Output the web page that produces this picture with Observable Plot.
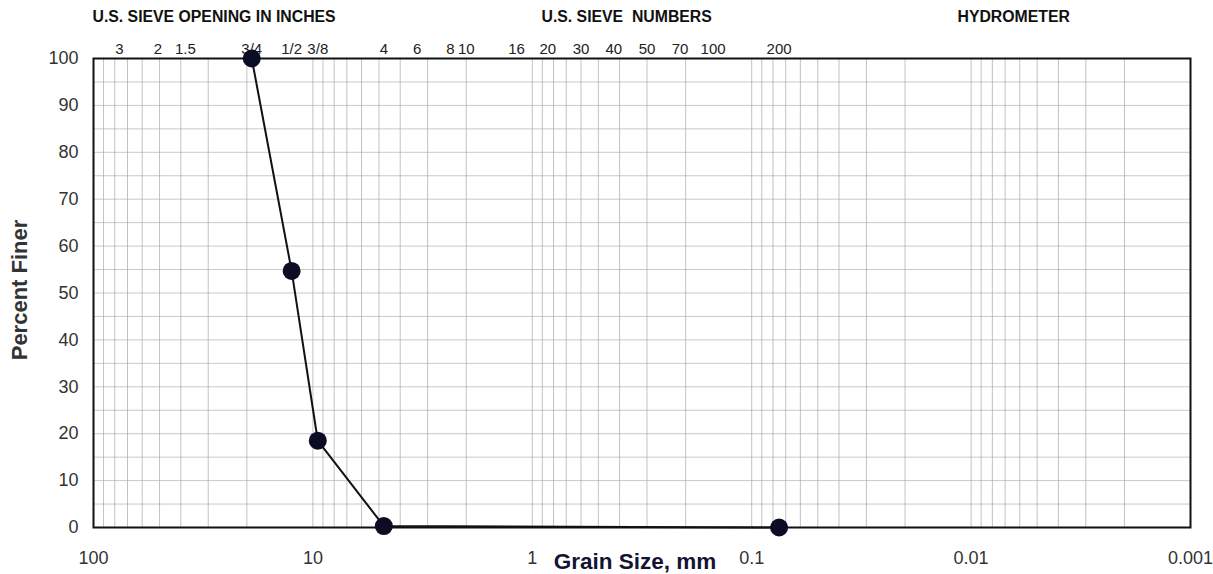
<!DOCTYPE html>
<html>
<head>
<meta charset="utf-8">
<script src="https://cdn.jsdelivr.net/npm/d3@7"></script>
<script src="https://cdn.jsdelivr.net/npm/@observablehq/plot@0.6"></script>
<style>
  html, body { margin: 0; padding: 0; background: #fff; }
</style>
</head>
<body>
<div id="chart"></div>
<script>
// Sieve tick labels (top axis) and their openings in mm
const sieveLabels = ["3", "2", "1.5", "3/4", "1/2", "3/8", "4", "6", "8", "10", "16", "20", "30", "40", "50", "70", "100", "200"];
const sieveSizesMm = [76.2, 50.8, 38.1, 19.0, 12.5, 9.5, 4.75, 3.35, 2.36, 2.0, 1.18, 0.85, 0.6, 0.425, 0.3, 0.212, 0.15, 0.075];

// Gradation test results
const grainSizeMm = [19.0, 12.5, 9.5, 4.75, 0.075];
const percentFiner = [100, 54.7, 18.5, 0.3, 0];

// Bottom axis ticks
const xTickValues = [100, 10, 1, 0.1, 0.01, 0.001];
const xTickLabels = ["100", "10", "1", "0.1", "0.01", "0.001"];
const yTickValues = [0, 10, 20, 30, 40, 50, 60, 70, 80, 90, 100];

// Header labels
const headerLabels = ["U.S. SIEVE OPENING IN INCHES", "U.S. SIEVE  NUMBERS", "HYDROMETER"];
const headerOffsets = [-1, 448, 864];

const points = grainSizeMm.map((d, i) => ({size: d, pct: percentFiner[i]}));
const sieves = sieveSizesMm.map((d, i) => ({size: d, label: sieveLabels[i]}));

// log grid lines (1..9 x each decade)
const gridXValues = [];
for (let e = -3; e < 2; e++) for (let m = 1; m < 10; m++) gridXValues.push(+(m * Math.pow(10, e)).toPrecision(6));
gridXValues.push(100);
const gridYValues = d3.range(0, 101, 5);

const font = "'Liberation Sans', Arial, sans-serif";

const chart = Plot.plot({
  width: 1213,
  height: 574,
  marginLeft: 93,
  marginRight: 23,
  marginTop: 58,
  marginBottom: 47,
  style: {fontFamily: font, background: "#fff", overflow: "visible"},
  x: {type: "log", domain: [100, 0.001]},
  y: {domain: [0, 100]},
  marks: [
    Plot.gridX(gridXValues, {stroke: "#999", strokeOpacity: 1, strokeWidth: 0.6}),
    Plot.gridY(gridYValues, {stroke: "#a5a5a5", strokeOpacity: 1, strokeWidth: 0.6}),
    Plot.frame({stroke: "#111", strokeWidth: 2}),
    Plot.axisY(yTickValues, {tickSize: 0, tickPadding: 15, fontSize: 18, label: null, fill: "#333"}),
    Plot.axisX(xTickValues, {anchor: "bottom", tickSize: 0, tickPadding: 24, fontSize: 18, label: null, fill: "#333",
      tickFormat: d => xTickLabels[xTickValues.indexOf(d)]}),
    Plot.text(sieves, {x: "size", text: "label", frameAnchor: "top", dy: -5, fontSize: 15, fill: "#222", textAnchor: "middle", lineAnchor: "bottom"}),
    Plot.line(points, {x: "size", y: "pct", stroke: "#111", strokeWidth: 2}),
    Plot.dot(points, {x: "size", y: "pct", r: 9, fill: "#0c0c24", stroke: "none"}),
    Plot.text(["Grain Size, mm"], {frameAnchor: "bottom", dx: -7, dy: 34, fontSize: 22.5, fontWeight: "bold", fill: "#141432", textAnchor: "middle", lineAnchor: "middle"}),
    Plot.text(["Percent Finer"], {frameAnchor: "left", dx: -74, dy: -3, rotate: -90, fontSize: 22, fontWeight: "bold", fill: "#333", textAnchor: "middle", lineAnchor: "middle"}),
    ...headerLabels.map((t, i) => Plot.text([t], {frameAnchor: "top-left", dx: headerOffsets[i], dy: -42, fontSize: 15.8, fontWeight: "bold", fill: "#111", textAnchor: "start", lineAnchor: "middle"}))
  ]
});
document.getElementById("chart").appendChild(chart);
</script>
</body>
</html>
